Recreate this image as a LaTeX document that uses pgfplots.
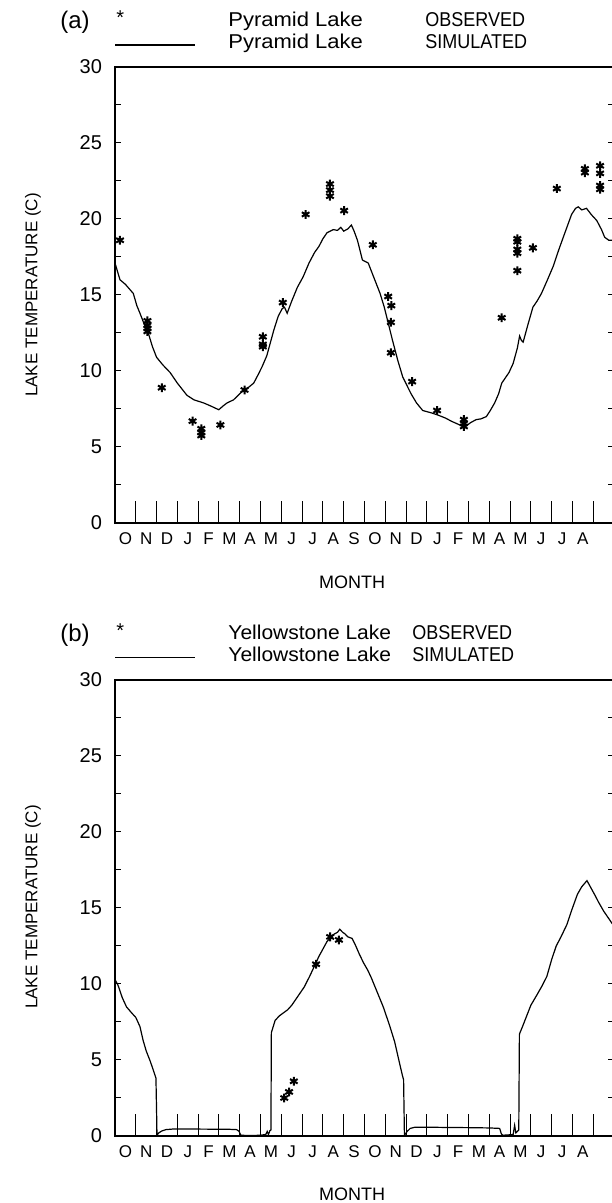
\documentclass[border=0pt]{standalone}
\usepackage{fontspec}
\setmainfont{Liberation Sans}
\usepackage{graphicx}
\usepackage{pgfplots}
\pgfplotsset{compat=1.18}

\pgfplotsset{lakeaxis/.style={
  scale only axis, width=249.5pt, height=228pt,
  xmin=0, xmax=24, ymin=0, ymax=30,
  axis line style={line width=0.7pt},
  xtick={1,...,23},
  xticklabels={O,N,D,J,F,M,A,M,J,J,A,S,O,N,D,J,F,M,A,M,J,J,A},
  xticklabel style={xshift=-5.2pt, yshift=-1.5pt, font=\fontsize{8.5}{9}\selectfont},
  xtick pos=lower, ytick pos=both, yticklabel pos=left,
  tick align=inside,
  major tick length=11pt,
  ytick={0,5,...,30}, minor ytick={2.5,7.5,...,27.5},
  ytick style={/pgfplots/major tick length=3pt},
  minor tick length=3pt,
  tick style={line width=0.5pt, black},
  yticklabel style={font=\fontsize{10}{11}\selectfont, xshift=-3pt},
  /pgf/number format/assume math mode=true,
  every axis plot/.append style={black},
}}

\pgfplotstableread{
m v
0 17.1
0.24 16.0
0.5 15.7
0.88 15.1
1.05 14.3
1.2 13.8
1.4 13.1
1.6 12.5
1.8 11.6
2.0 10.9
2.3 10.4
2.65 9.9
3.0 9.2
3.46 8.4
3.8 8.1
4.26 7.9
4.6 7.7
4.99 7.45
5.2 7.7
5.39 7.9
5.7 8.1
6.11 8.65
6.4 8.9
6.67 9.2
6.9 9.8
7.08 10.3
7.3 11.0
7.5 12.0
7.64 12.7
7.85 13.6
8.04 14.1
8.15 14.2
8.28 13.8
8.5 14.6
8.77 15.5
9.05 16.2
9.33 17.1
9.6 17.8
9.81 18.2
10.0 18.7
10.2 19.1
10.5 19.3
10.7 19.25
10.86 19.45
11.0 19.2
11.2 19.35
11.37 19.6
11.5 19.2
11.66 18.6
11.9 17.3
12.18 17.1
12.35 16.5
12.55 15.8
12.75 15.1
12.95 14.2
13.15 13.1
13.35 12.0
13.6 10.7
13.84 9.6
14.24 8.5
14.5 7.9
14.8 7.4
15.2 7.25
15.53 7.1
15.9 6.9
16.17 6.7
16.5 6.5
16.81 6.3
17.1 6.6
17.37 6.8
17.6 6.85
17.86 7.0
18.05 7.4
18.26 7.9
18.45 8.5
18.6 9.2
18.7 9.4
18.95 9.9
19.15 10.5
19.35 11.5
19.46 12.3
19.55 12.0
19.63 11.9
19.85 13.0
20.1 14.2
20.3 14.6
20.51 15.1
20.8 16.0
21.08 16.9
21.35 18.0
21.64 19.1
21.96 20.3
22.15 20.7
22.28 20.8
22.45 20.6
22.68 20.7
22.9 20.3
23.17 19.9
23.4 19.3
23.55 18.8
23.75 18.6
24 18.6
}\pyrsim

\pgfplotstableread{
m v
0.24 18.6
1.56 13.3
1.56 13.0
1.56 12.8
1.56 12.6
2.25 8.9
3.73 6.7
4.15 6.2
4.15 5.95
4.15 5.75
5.07 6.45
6.23 8.75
7.11 12.25
7.11 11.75
7.11 11.6
8.07 14.5
9.17 20.3
10.34 22.3
10.34 21.9
10.34 21.5
11.02 20.55
12.4 18.3
13.14 14.9
13.29 14.3
13.27 13.2
13.27 11.2
14.29 9.3
15.49 7.4
16.78 6.8
16.78 6.55
16.78 6.35
18.6 13.5
19.35 18.7
19.35 18.5
19.35 18.0
19.35 17.75
19.35 16.6
20.1 18.1
21.25 22.0
22.6 23.3
22.6 23.05
23.33 23.5
23.33 23.0
23.33 22.2
23.33 21.95
}\pyrobs

\pgfplotstableread{
m v
0 10.3
0.15 9.9
0.35 9.1
0.55 8.5
0.8 8.1
1.0 7.8
1.2 7.2
1.35 6.3
1.5 5.6
1.7 4.9
1.85 4.3
1.97 3.8
2.02 0.05
2.1 0.2
2.25 0.33
2.45 0.42
2.8 0.46
3.5 0.46
4.5 0.45
5.5 0.44
5.85 0.42
5.97 0.3
6.05 0.05
6.5 0.03
7.0 0.05
7.25 0.1
7.32 0.3
7.38 0.1
7.45 0.35
7.5 0.4
7.52 6.8
7.7 7.6
7.9 7.9
8.1 8.1
8.3 8.3
8.5 8.6
8.7 9.0
8.9 9.4
9.1 9.8
9.36 10.5
9.6 11.2
9.8 11.8
10.0 12.3
10.2 12.8
10.4 13.1
10.56 13.3
10.7 13.4
10.81 13.6
10.95 13.4
11.06 13.3
11.2 13.1
11.4 13.0
11.55 12.6
11.74 12.0
11.95 11.4
12.16 10.9
12.33 10.4
12.6 9.5
12.9 8.5
13.2 7.3
13.45 6.2
13.65 5.0
13.82 4.0
13.88 3.7
13.92 0.05
14.05 0.3
14.2 0.5
14.4 0.57
15 0.58
16 0.56
17 0.55
18 0.53
18.5 0.5
18.58 0.15
18.65 0.05
19.0 0.08
19.15 0.1
19.22 0.7
19.28 0.2
19.35 0.3
19.42 0.4
19.45 6.7
19.6 7.2
19.8 7.9
20.0 8.6
20.3 9.3
20.55 9.9
20.77 10.5
21.0 11.6
21.22 12.5
21.45 13.1
21.73 13.9
21.95 14.8
22.24 15.9
22.45 16.4
22.7 16.8
22.9 16.3
23.1 15.8
23.25 15.4
23.5 14.8
23.7 14.4
24 13.8
}\yelsim

\pgfplotstableread{
m v
8.14 2.5
8.37 2.9
8.6 3.6
9.67 11.3
10.35 13.1
10.77 12.9
}\yelobs

\begin{document}
\begin{tikzpicture}
\useasboundingbox (0,0) rectangle (305.5pt,601.5pt);

% ---------- panel (a) ----------
\begin{axis}[lakeaxis, at={(57.5pt,340pt)}, anchor=south west]
\addplot[line width=0.6pt] table[x=m,y=v] {\pyrsim};
\addplot[only marks, mark=asterisk, mark size=2.2pt, line width=1pt] table[x=m,y=v] {\pyrobs};
\end{axis}

% ---------- panel (b) ----------
\begin{axis}[lakeaxis, at={(57.5pt,33.5pt)}, anchor=south west]
\addplot[line width=0.6pt] table[x=m,y=v] {\yelsim};
\addplot[only marks, mark=asterisk, mark size=2.2pt, line width=1pt] table[x=m,y=v] {\yelobs};
\end{axis}

\begin{scope}[every node/.style={inner sep=0pt, font=\fontsize{10}{11}\selectfont}]
% legend and labels, panel (a)
\node[anchor=base west, font=\fontsize{12}{13}\selectfont] at (30pt,587pt) {(a)};
\node[anchor=base west] at (58pt,589pt) {*};
\node[anchor=west] at (57.5pt,579pt) {\rule{40pt}{0.6pt}};
\node[anchor=base west] at (114pt,588pt) {\scalebox{1.1}[1]{Pyramid Lake}};
\node[anchor=base west] at (114pt,577pt) {\scalebox{1.1}[1]{Pyramid Lake}};
\node[anchor=base west] at (212.5pt,588pt) {\scalebox{0.9}[1]{OBSERVED}};
\node[anchor=base west] at (212.5pt,577pt) {\scalebox{0.9}[1]{SIMULATED}};
\node[rotate=90, font=\fontsize{8.5}{9}\selectfont] at (16.5pt,454pt) {LAKE TEMPERATURE (C)};
\node[font=\fontsize{9}{10}\selectfont] at (176pt,310.5pt) {MONTH};

% legend and labels, panel (b)
\node[anchor=base west, font=\fontsize{12}{13}\selectfont] at (30pt,280.85pt) {(b)};
\node[anchor=base west] at (58pt,282.85pt) {*};
\node[anchor=west] at (57.5pt,272.85pt) {\rule{40pt}{0.6pt}};
\node[anchor=base west] at (114pt,281.85pt) {\scalebox{1.05}[1]{Yellowstone Lake}};
\node[anchor=base west] at (114pt,270.85pt) {\scalebox{1.05}[1]{Yellowstone Lake}};
\node[anchor=base west] at (206pt,281.85pt) {\scalebox{0.9}[1]{OBSERVED}};
\node[anchor=base west] at (206pt,270.85pt) {\scalebox{0.9}[1]{SIMULATED}};
\node[rotate=90, font=\fontsize{8.5}{9}\selectfont] at (16.5pt,148pt) {LAKE TEMPERATURE (C)};
\node[font=\fontsize{9}{10}\selectfont] at (176pt,4.5pt) {MONTH};
\end{scope}
\end{tikzpicture}
\end{document}
